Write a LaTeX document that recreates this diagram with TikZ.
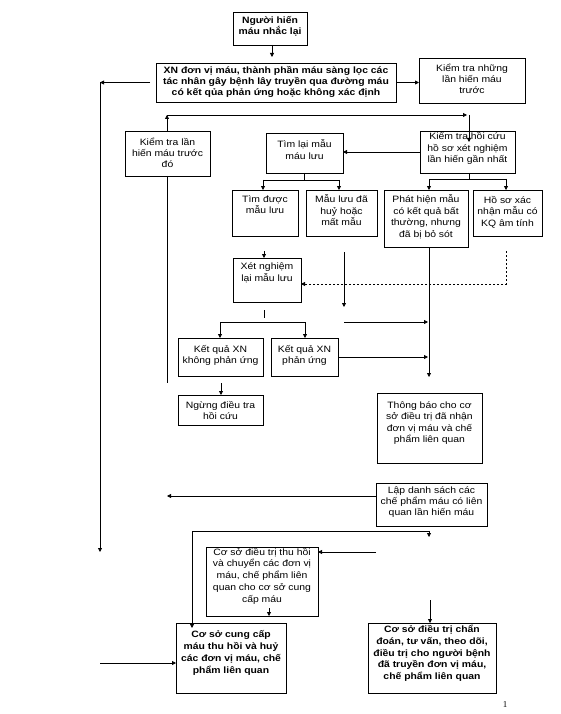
\documentclass[tikz,border=0pt]{standalone}
\usepackage{fontspec}
\setmainfont{Liberation Sans}[FakeStretch=1.13]
\newfontfamily\pgnum{Liberation Serif}
\usetikzlibrary{arrows.meta,calc}
% width, height, first-baseline offset, line spacing, text
\newcommand{\bt}[5]{\parbox[c][#2pt][t]{#1pt}{\centering\fontsize{9.2}{#4}\selectfont\lineskiplimit=-20pt\relax\vspace*{\dimexpr #3pt-10pt\relax}\rule{0pt}{10pt}#5\par}}
\tikzset{
  box/.style={draw, line width=0.8pt, inner sep=0pt, outer sep=0pt, anchor=north west},
  bbox/.style={box, font=\bfseries},
  con/.style={line width=0.8pt},
  arr/.style={con, -{Triangle[length=4pt,width=4pt]}},
  dsh/.style={arr, dash pattern=on 2pt off 2pt}
}
\begin{document}
\begin{tikzpicture}[x=1pt,y=-1pt]
\fill[white] (0,0) rectangle (561,714);
\useasboundingbox (0,0) rectangle (561,714);
% boxes
\node[bbox] (b1) at (233,12) {\bt{74}{33}{11.5}{11}{Người hiến\\máu nhắc lại}};
\node[bbox] (xn) at (156,63) {\bt{240}{39}{11}{11}{XN đơn vị máu, thành phần máu sàng lọc các\\tác nhân gây bệnh lây truyền qua đường máu\\có kết qủa phản ứng hoặc không xác định}};
\node[box] (b3) at (419,58) {\bt{106}{45}{14}{11}{Kiểm tra những\\lần hiến máu\\trước}};
\node[box] (b4) at (125,131) {\bt{85}{45}{14.5}{11}{Kiểm tra lần\\hiến máu trước\\đó}};
\node[box] (b5) at (266,133) {\bt{77}{40}{15}{11.5}{Tìm lại mẫu\\máu lưu}};
\node[box] (b6) at (420,131) {\bt{95}{42}{9}{11.5}{Kiểm tra hồi cứu\\hồ sơ xét nghiệm\\lần hiến gần nhất}};
\node[box] (b7) at (232,190) {\bt{66}{46}{12.5}{10.7}{Tìm được\\mẫu lưu}};
\node[box] (b8) at (306,190) {\bt{71}{46}{12.5}{11.5}{Mẫu lưu đã\\huỷ hoặc\\mất mẫu}};
\node[box] (b9) at (384,190) {\bt{84}{57}{12.5}{11.5}{Phát hiện mẫu\\có kết quả bất\\thường, nhưng\\đã bị bỏ sót}};
\node[box] (b10) at (473,190) {\bt{69}{46}{13}{11.5}{Hồ sơ xác\\nhận mẫu có\\KQ âm tính}};
\node[box] (b11) at (233,258) {\bt{68}{44}{11.5}{12}{Xét nghiệm\\lại mẫu lưu}};
\node[box] (b12) at (178,338) {\bt{85}{38}{14}{11}{Kết quả XN\\không phản ứng}};
\node[box] (b13) at (271,338) {\bt{67}{38}{14}{11}{Kết quả XN\\phản ứng}};
\node[box] (b14) at (178,395) {\bt{85}{30}{13.5}{10.5}{Ngừng điều tra\\hồi cứu}};
\node[box] (b15) at (377,393) {\bt{105}{70}{15.5}{11.3}{Thông báo cho cơ\\sở điều trị đã nhận\\đơn vị máu và chế\\phẩm liên quan}};
\node[box] (b16) at (376,483) {\bt{111}{43}{10}{11.3}{Lập danh sách các\\chế phẩm máu có liên\\quan lần hiến máu}};
\node[box] (b17) at (206,547) {\bt{112}{69}{8}{11.8}{Cơ sở điều trị thu hồi\\và chuyển các đơn vị\\máu, chế phẩm liên\\quan cho cơ sở cung\\cấp máu}};
\node[bbox] (b18) at (176,623) {\bt{110}{70}{14}{12.3}{Cơ sở cung cấp\\máu thu hồi và huỷ\\các đơn vị máu, chế\\phẩm liên quan}};
\node[bbox] (b19) at (368,623) {\bt{128}{70}{9.5}{11.8}{Cơ sở điều trị chẩn\\đoán, tư vấn, theo dõi,\\điều trị cho người bệnh\\đã truyền đơn vị máu,\\chế phẩm liên quan}};
\node[font=\pgnum\fontsize{9}{10}\selectfont, inner sep=0pt] (pg) at (505,705) {1};
% connectors
\coordinate (a1) at (272,57);
\draw[arr] (b1.south -| a1) -- (a1);
\coordinate (l0) at ($(xn.west)+(-6,0)$);
\coordinate (l1) at ($(xn.west)+(-56,0)$);
\coordinate (l2) at (100,552);
\draw[arr] (l0) -- (l1);
\draw[arr] (l1) -- (l2);
\draw[arr] (xn.east) -- (xn.east -| b3.west);
\coordinate (t1) at (167,115);
\coordinate (t2) at (467,115);
\coordinate (t3) at (469,115);
\coordinate (t4) at (469,142);
\draw[arr] (b4.north -| t1) -- (t1);
\draw[arr] (t1) -- (t2);
\draw[arr] (t3) -- (t4);
\draw[arr] (b6.west) -- (b6.west -| b5.east);
\coordinate (f1) at (304,180);
\coordinate (f2) at (263,180);
\coordinate (f3) at (339,180);
\draw[con] (b5.south -| f1) -- (f1);
\draw[con] (f2) -- (f3);
\draw[arr] (f2) -- (f2 |- b7.north);
\draw[arr] (f3) -- (f3 |- b8.north);
\coordinate (g1) at (469,179);
\coordinate (g2) at (429,179);
\coordinate (g3) at (506,179);
\draw[con] (b6.south -| g1) -- (g1);
\draw[con] (g2) -- (g3);
\draw[arr] (g2) -- (g2 |- b9.north);
\draw[arr] (g3) -- (g3 |- b10.north);
\coordinate (h1) at (264,251);
\draw[arr] (h1) -- (h1 |- b11.north);
\coordinate (h2) at (344,252);
\coordinate (h3) at (344,307);
\draw[arr] (h2) -- (h3);
\coordinate (k1) at (429,377);
\draw[arr] (b9.south -| k1) -- (k1);
\coordinate (d1) at (506,251);
\coordinate (d2) at (506,284);
\draw[dsh] (d1) -- (d2) -- (d2 -| b11.east);
\coordinate (m1) at (264,310);
\coordinate (m2) at (264,318);
\draw[con] (m1) -- (m2);
\coordinate (n1) at (220,322);
\coordinate (n2) at (305,322);
\draw[con] (n1) -- (n2);
\draw[arr] (n1) -- (n1 |- b12.north);
\draw[arr] (n2) -- (n2 |- b13.north);
\coordinate (q1) at (344,322);
\coordinate (q2) at (428,322);
\draw[arr] (q1) -- (q2);
\draw[arr] (b13.east) -- (b13.east -| q2);
\coordinate (r1) at (221,383);
\draw[arr] (r1) -- (r1 |- b14.north);
\coordinate (s1) at (167,383);
\draw[con] (b4.south -| s1) -- (s1);
\coordinate (u1) at (167,496);
\draw[arr] (b16.west |- u1) -- (u1);
\coordinate (v1) at (192,531);
\coordinate (v2) at (429,531);
\coordinate (v3) at (429,537);
\coordinate (v4) at (192,628);
\draw[con] (v1) -- (v2);
\draw[arr] (v2) -- (v3);
\draw[arr] (v1) -- (v4);
\coordinate (w1) at (376,552);
\draw[arr] (w1) -- (w1 -| b17.east);
\coordinate (y1) at (269,608);
\draw[arr] (y1) -- (y1 |- b17.south);
\coordinate (z1) at (430,600);
\draw[arr] (z1) -- (z1 |- b19.north);
\coordinate (e1) at (100,663);
\draw[arr] (e1) -- (e1 -| b18.west);
\end{tikzpicture}
\end{document}
